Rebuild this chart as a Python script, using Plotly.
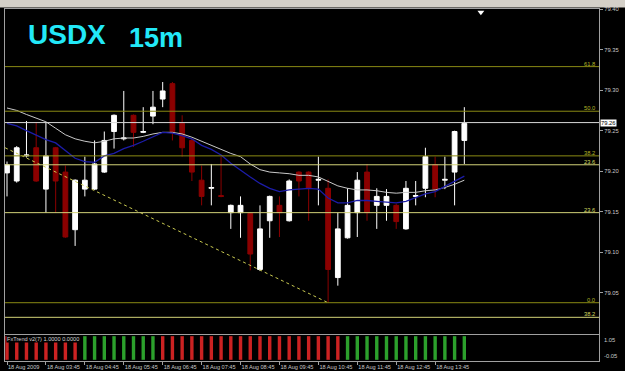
import plotly.graph_objects as go

# ---------------- data ----------------
idx = list(range(48))
opens  = [79.198, 79.188, 79.219, 79.229, 79.178, 79.229, 79.199, 79.128, 79.178, 79.178,
          79.199, 79.249, 79.240, 79.269, 79.248, 79.268, 79.289, 79.308, 79.259, 79.238,
          79.189, 79.179, 79.170, 79.149, 79.149, 79.148, 79.079, 79.139, 79.158, 79.139,
          79.199, 79.199, 79.189, 79.179, 79.069, 79.118, 79.149, 79.199, 79.158, 79.158,
          79.158, 79.129, 79.169, 79.179, 79.208, 79.189, 79.199, 79.238]
highs  = [79.212, 79.231, 79.262, 79.260, 79.260, 79.230, 79.207, 79.190, 79.218, 79.238,
          79.249, 79.270, 79.299, 79.270, 79.279, 79.299, 79.310, 79.310, 79.269, 79.240,
          79.207, 79.209, 79.218, 79.159, 79.169, 79.149, 79.158, 79.170, 79.169, 79.190,
          79.200, 79.200, 79.218, 79.190, 79.149, 79.179, 79.199, 79.209, 79.179, 79.178,
          79.160, 79.188, 79.188, 79.229, 79.218, 79.218, 79.250, 79.279]
lows   = [79.169, 79.186, 79.217, 79.187, 79.149, 79.149, 79.118, 79.108, 79.169, 79.177,
          79.198, 79.228, 79.238, 79.230, 79.247, 79.258, 79.279, 79.238, 79.218, 79.188,
          79.158, 79.158, 79.168, 79.129, 79.118, 79.078, 79.077, 79.118, 79.119, 79.138,
          79.169, 79.139, 79.158, 79.038, 79.059, 79.117, 79.119, 79.139, 79.129, 79.139,
          79.129, 79.128, 79.158, 79.168, 79.168, 79.178, 79.158, 79.209]
closes = [79.208, 79.229, 79.220, 79.188, 79.219, 79.188, 79.119, 79.189, 79.189, 79.209,
          79.238, 79.269, 79.241, 79.248, 79.249, 79.279, 79.299, 79.249, 79.229, 79.199,
          79.169, 79.180, 79.169, 79.158, 79.158, 79.098, 79.129, 79.169, 79.149, 79.188,
          79.188, 79.179, 79.190, 79.079, 79.129, 79.158, 79.189, 79.149, 79.169, 79.169,
          79.138, 79.179, 79.170, 79.218, 79.178, 79.190, 79.249, 79.259]

ma_slow = [79.278, 79.275, 79.270, 79.265, 79.261, 79.253, 79.245, 79.240, 79.237, 79.235,
           79.237, 79.240, 79.241, 79.241, 79.243, 79.246, 79.248, 79.248, 79.246, 79.242,
           79.237, 79.232, 79.227, 79.222, 79.218, 79.209, 79.202, 79.199, 79.198, 79.197,
           79.195, 79.195, 79.193, 79.187, 79.182, 79.179, 79.177, 79.177, 79.176, 79.174,
           79.173, 79.174, 79.174, 79.176, 79.177, 79.180, 79.184, 79.189]
ma_fast = [79.259, 79.256, 79.250, 79.245, 79.239, 79.235, 79.225, 79.216, 79.212, 79.211,
           79.219, 79.222, 79.228, 79.232, 79.237, 79.242, 79.248, 79.247, 79.244, 79.240,
           79.232, 79.227, 79.220, 79.210, 79.201, 79.193, 79.185, 79.179, 79.175, 79.177,
           79.178, 79.179, 79.178, 79.167, 79.161, 79.161, 79.164, 79.164, 79.163, 79.162,
           79.161, 79.163, 79.168, 79.172, 79.175, 79.181, 79.187, 79.194]

# FxTrend histogram: 1 = up (green), 0 = down (red)
trend_up = [0, 0, 0, 0, 0, 0, 0, 0, 1, 1, 1, 1, 1, 1, 1, 1,
            0, 0, 0, 0, 0, 0, 0, 0, 0, 0, 0, 0, 0, 0, 0, 0, 0, 0, 0,
            1, 1, 1, 1, 1, 1, 1, 1, 1, 1, 1, 1, 1]

trend_x = [-0.2, 33]
trend_y = [79.229, 79.038]

fib_levels = [79.329, 79.274, 79.219, 79.208, 79.149, 79.038, 79.020]
fib_labels = ["61.8", "50.0", "38.2", "23.6", "23.6", "0.0", "38.2"]
fib_bright = [False, False, False, True, True, False, True]

current_price = 79.26
price_ticks = [79.05, 79.10, 79.15, 79.20, 79.25, 79.30, 79.35, 79.40]
time_tick_idx = [0, 4, 8, 12, 16, 20, 24, 28, 32, 36, 40, 44]
time_tick_txt = ["18 Aug 2009", "18 Aug 03:45", "18 Aug 04:45", "18 Aug 05:45",
                 "18 Aug 06:45", "18 Aug 07:45", "18 Aug 08:45", "18 Aug 09:45",
                 "18 Aug 10:45", "18 Aug 11:45", "18 Aug 12:45", "18 Aug 13:45"]
shift_marker = [48.7, 79.396]

# ---------------- styles ----------------
FONT = "Liberation Sans, Arial, sans-serif"
AX = "#a0a0a0"
TXT = "#c8c8c8"
OLIVE = "#8a8a14"
BRIGHT = "#d2d278"
XR = [-0.206, 60.84]

fig = go.Figure()

fig.add_trace(go.Candlestick(
    x=idx, open=opens, high=highs, low=lows, close=closes,
    increasing=dict(line=dict(color="#ffffff", width=1), fillcolor="#ffffff"),
    decreasing=dict(line=dict(color="#8b0000", width=1), fillcolor="#8b0000"),
    whiskerwidth=0, hoverinfo="skip", showlegend=False, xaxis="x", yaxis="y"))

fig.add_trace(go.Scatter(x=idx, y=ma_slow, mode="lines",
                         line=dict(color="#c8c8c8", width=1), showlegend=False,
                         hoverinfo="skip"))
fig.add_trace(go.Scatter(x=idx, y=ma_fast, mode="lines",
                         line=dict(color="#1c1ca8", width=1.3), showlegend=False,
                         hoverinfo="skip"))
fig.add_trace(go.Scatter(x=trend_x, y=trend_y, mode="lines",
                         line=dict(color="#c8c850", width=1, dash="dot"),
                         showlegend=False, hoverinfo="skip"))
fig.add_trace(go.Scatter(x=[shift_marker[0]], y=[shift_marker[1]], mode="markers",
                         marker=dict(symbol="triangle-down", size=6, color="#ffffff"),
                         showlegend=False, hoverinfo="skip"))

up_vals = [1 if t == 1 else None for t in trend_up]
dn_vals = [1 if t == 0 else None for t in trend_up]
fig.add_trace(go.Bar(x=idx, y=up_vals, marker=dict(color="#2ca02c", line=dict(width=0)),
                     xaxis="x2", yaxis="y2", showlegend=False, hoverinfo="skip"))
fig.add_trace(go.Bar(x=idx, y=dn_vals, marker=dict(color="#cc2222", line=dict(width=0)),
                     xaxis="x2", yaxis="y2", showlegend=False, hoverinfo="skip"))

shapes = []
annots = []
for lv, lb, br in zip(fib_levels, fib_labels, fib_bright):
    col = BRIGHT if br else OLIVE
    shapes.append(dict(type="line", xref="x domain", yref="y", x0=0, x1=1, y0=lv, y1=lv,
                       line=dict(color=col, width=1)))
    annots.append(dict(xref="x domain", yref="y", x=0.997, y=lv, text=lb, showarrow=False,
                       xanchor="right", yanchor="bottom", yshift=-2,
                       font=dict(family=FONT, size=5.8, color="#d8d860" if br else "#b4b428")))
shapes.append(dict(type="line", xref="x domain", yref="y", x0=0, x1=1,
                   y0=current_price, y1=current_price, line=dict(color="#d8d8d8", width=1)))
annots.append(dict(xref="paper", yref="y", x=1, y=current_price, text="79.26",
                   showarrow=False, xanchor="left", xshift=1, bgcolor="#ffffff",
                   borderpad=0, font=dict(family=FONT, size=5.8, color="#000000")))
# toolbar strip at top
shapes.append(dict(type="rect", xref="paper", yref="paper", x0=-0.02, x1=1.06,
                   y0=1 + 1.5 / 352, y1=1 + 9 / 352, fillcolor="#d4d0c8",
                   line=dict(width=0), layer="below"))

annots.append(dict(xref="paper", yref="paper", x=0.036, y=0.978, text="<b>USDX</b>",
                   showarrow=False, xanchor="left", yanchor="top",
                   font=dict(family=FONT, size=28, color="#22e8f8")))
annots.append(dict(xref="paper", yref="paper", x=0.205, y=0.965, text="<b>15m</b>",
                   showarrow=False, xanchor="left", yanchor="top",
                   font=dict(family=FONT, size=27, color="#22e8f8")))
annots.append(dict(xref="paper", yref="y2", x=0.002, y=1.05, text="FxTrend v2(7) 1.0000 0.0000",
                   showarrow=False, xanchor="left", yanchor="top", bgcolor="#000000",
                   borderpad=0, font=dict(family=FONT, size=5.6, color="#d0d0d0")))
annots.append(dict(xref="paper", yref="y2", x=1, y=1.05, text="1.05", showarrow=False,
                   xanchor="left", yanchor="top", xshift=3,
                   font=dict(family=FONT, size=5.8, color=TXT)))
annots.append(dict(xref="paper", yref="y2", x=1, y=-0.05, text="-0.05", showarrow=False,
                   xanchor="left", yanchor="bottom", xshift=3,
                   font=dict(family=FONT, size=5.8, color=TXT)))

fig.update_layout(
    width=625, height=371,
    margin=dict(l=5, r=26, t=9, b=10),
    paper_bgcolor="#000000", plot_bgcolor="#000000",
    barmode="overlay", bargap=0.65,
    showlegend=False,
    shapes=shapes, annotations=annots,
    xaxis=dict(domain=[0, 1], range=XR, anchor="y", showticklabels=False,
               showgrid=False, zeroline=False, showline=True, mirror=True,
               linecolor=AX, linewidth=1, rangeslider=dict(visible=False), ticks="",
               automargin=False),
    yaxis=dict(domain=[0.078, 1], range=[79.0, 79.40], side="right", anchor="x",
               tickvals=price_ticks, ticktext=[f"{v:.2f}" for v in price_ticks],
               ticks="outside", ticklen=3, tickcolor=AX,
               tickfont=dict(family=FONT, size=5.8, color=TXT),
               showgrid=False, zeroline=False, showline=True, mirror=True,
               linecolor=AX, linewidth=1, automargin=False),
    xaxis2=dict(domain=[0, 1], range=XR, anchor="y2", matches="x",
                tickvals=time_tick_idx, ticktext=time_tick_txt, tickangle=0,
                ticklabelposition="outside right", ticks="outside", ticklen=3,
                tickcolor=AX, tickfont=dict(family=FONT, size=5.6, color=TXT),
                showgrid=False, zeroline=False, showline=True, mirror=True,
                linecolor=AX, linewidth=1, automargin=False),
    yaxis2=dict(domain=[0, 0.0739], range=[-0.05, 1.05], anchor="x2", side="right",
                showticklabels=False, ticks="", showgrid=False, zeroline=False,
                showline=True, mirror=True, linecolor=AX, linewidth=1, automargin=False),
)

fig.write_html("out.html")
